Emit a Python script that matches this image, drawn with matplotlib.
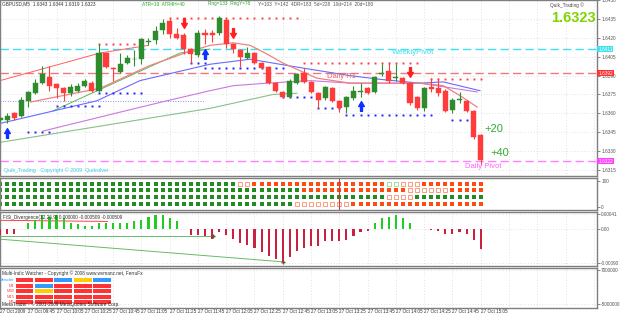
import matplotlib
matplotlib.use("Agg")
import matplotlib.pyplot as plt
from matplotlib.path import Path

plt.rcParams['font.family'] = ['Liberation Sans', 'DejaVu Sans']

W, H = 625, 315

# ---------------- data ----------------
bar_idx = list(range(-1, 68))
opens = [1.6355, 1.6355, 1.6360, 1.6358, 1.6370, 1.6376, 1.6384, 1.6389, 1.6383, 1.6380,
         1.6376, 1.6378, 1.6382, 1.6384, 1.6378, 1.6408, 1.6396, 1.6393, 1.6400, 1.6403,
         1.6403, 1.6417, 1.6418, 1.6426, 1.6433, 1.6423, 1.6422, 1.6411, 1.6406, 1.6424,
         1.6424, 1.6424, 1.6434, 1.6415, 1.6410, 1.6404, 1.6408, 1.6400, 1.6397, 1.6384,
         1.6377, 1.6373, 1.6384, 1.6392, 1.6385, 1.6376, 1.6372, 1.6380, 1.6370, 1.6365,
         1.6372, 1.6377, 1.6380, 1.6377, 1.6391, 1.6394, 1.6388, 1.6388, 1.6384, 1.6373,
         1.6364, 1.6381, 1.6380, 1.6378, 1.6363, 1.6371, 1.6370, 1.6362, 1.6343]
highs = [1.6357, 1.6360, 1.6361, 1.6373, 1.6378, 1.6387, 1.6398, 1.6398, 1.6384, 1.6381,
         1.6383, 1.6384, 1.6387, 1.6386, 1.6415, 1.6409, 1.6397, 1.6408, 1.6406, 1.6410,
         1.6420, 1.6420, 1.6429, 1.6435, 1.6436, 1.6428, 1.6424, 1.6412, 1.6426, 1.6427,
         1.6426, 1.6437, 1.6436, 1.6416, 1.6411, 1.6413, 1.6409, 1.6401, 1.6398, 1.6385,
         1.6378, 1.6387, 1.6392, 1.6396, 1.6386, 1.6377, 1.6382, 1.6381, 1.6371, 1.6374,
         1.6382, 1.6384, 1.6381, 1.6390, 1.6399, 1.6401, 1.6399, 1.6389, 1.6385, 1.6374,
         1.6381, 1.6388, 1.6388, 1.6379, 1.6372, 1.6377, 1.6371, 1.6363, 1.6344]
lows = [1.6353, 1.6352, 1.6355, 1.6357, 1.6365, 1.6375, 1.6383, 1.6378, 1.6372, 1.6370,
        1.6374, 1.6377, 1.6381, 1.6377, 1.6377, 1.6396, 1.6386, 1.6392, 1.6399, 1.6398,
        1.6399, 1.6414, 1.6415, 1.6423, 1.6420, 1.6419, 1.6407, 1.6400, 1.6405, 1.6415,
        1.6417, 1.6422, 1.6412, 1.6408, 1.6397, 1.6403, 1.6399, 1.6395, 1.6383, 1.6377,
        1.6372, 1.6372, 1.6383, 1.6384, 1.6376, 1.6364, 1.6371, 1.6369, 1.6361, 1.6360,
        1.6371, 1.6373, 1.6375, 1.6376, 1.6390, 1.6384, 1.6386, 1.6383, 1.6367, 1.6363,
        1.6362, 1.6377, 1.6374, 1.6361, 1.6360, 1.6368, 1.6361, 1.6340, 1.6319]
closes = [1.6356, 1.6358, 1.6356, 1.6371, 1.6377, 1.6384, 1.6391, 1.6382, 1.6380, 1.6376,
          1.6381, 1.6382, 1.6386, 1.6378, 1.6408, 1.6397, 1.6395, 1.6399, 1.6404, 1.64035,
          1.6419, 1.6417, 1.6425, 1.6432, 1.6423, 1.6420, 1.6411, 1.6407, 1.6424, 1.6422,
          1.6422, 1.6436, 1.6415, 1.6411, 1.6405, 1.6408, 1.6400, 1.6396, 1.6384, 1.6378,
          1.6373, 1.6386, 1.6391, 1.6385, 1.6377, 1.6371, 1.6381, 1.6370, 1.6364, 1.6373,
          1.6378, 1.6378, 1.6376, 1.6389, 1.6392, 1.6386, 1.6389, 1.6384, 1.6368, 1.6364,
          1.6380, 1.6379, 1.6376, 1.6362, 1.6371, 1.6371, 1.6362, 1.6341, 1.6323]

# moving averages as (bar, price) vertices
ma_salmon = [(3.3, 1.6369), (13.2, 1.6380), (20.2, 1.6398), (25.2, 1.6408), (28.7, 1.6414),
             (32.0, 1.6416), (34.4, 1.6414), (36.8, 1.6407), (39.0, 1.6400), (41.4, 1.6394),
             (43.8, 1.6388), (48.5, 1.6384), (55.6, 1.6384), (58.4, 1.6384), (61.7, 1.6382),
             (64.1, 1.6374), (66.5, 1.6365)]
ma_upper = [(-1.0, 1.6386), (13.2, 1.6408), (20.0, 1.6414)]
ma_green_fast = [(6.5, 1.6362), (24.5, 1.6408), (28.7, 1.6411)]
ma_green_slow = [(-1.0, 1.6337), (28.7, 1.6364), (37.6, 1.6375), (41.0, 1.6376)]
ma_blue = [(-1.0, 1.6352), (12.7, 1.6370), (18.8, 1.6386), (28.7, 1.6399), (34.4, 1.6403),
           (38.6, 1.6399), (42.9, 1.6395), (48.5, 1.6390), (52.8, 1.6387), (58.4, 1.6384),
           (61.7, 1.6385), (66.9, 1.6378)]
ma_purple = [(5.1, 1.6346), (16.0, 1.6361), (22.6, 1.6370), (28.7, 1.6378), (32.0, 1.6382),
             (36.8, 1.6384), (42.9, 1.6386), (48.5, 1.6384), (55.6, 1.6384), (58.4, 1.6384),
             (66.5, 1.6377)]

# stepped dotted levels: (first bar, last bar, price)
res_dots = [(13, 19, 1.6415), (23, 41, 1.6436), (42, 58, 1.6400), (60, 67, 1.6387)]
sup_dots = [(3, 6, 1.6345), (7, 13, 1.6366), (13, 19, 1.6376), (26, 28, 1.6400),
            (28, 39, 1.6396), (39, 43, 1.6373), (44, 47, 1.6364), (48, 60, 1.6359), (63, 66, 1.6355)]
prev_level = (-1, 28, 1.6370)

up_arrows = [0, 28, 50]
down_arrows = [25, 32, 57]

weekly_pivot = 1.6411
daily_r1 = 1.6392
daily_pivot = 1.6322
price_ticks = [1.6315, 1.6330, 1.6345, 1.6360, 1.6375, 1.6390, 1.6405, 1.6420, 1.6435, 1.6450]

time_labels = ['27 Oct 2009', '27 Oct 09:45', '27 Oct 10:05', '27 Oct 10:25', '27 Oct 10:45',
               '27 Oct 11:05', '27 Oct 11:25', '27 Oct 11:45', '27 Oct 12:05', '27 Oct 12:25',
               '27 Oct 12:45', '27 Oct 13:05', '27 Oct 13:25', '27 Oct 13:45', '27 Oct 14:05',
               '27 Oct 14:25', '27 Oct 14:45', '27 Oct 15:05']

# signal dots: G green, O orange, o hollow orange, g hollow green
dot_rows = [
    'G' * 34 + 'oo' + 'O' * 19 + 'gg' + 'ooo' + 'O' * 9,
    'G' * 43 + 'O' * 15 + 'o' * 6 + 'O' * 5,
    'G' * 55 + 'oooo' + 'G' * 10,
    'G' * 42 + 'o' * 8 + 'O' * 19,
]

# FiSi divergence histogram
hist_vals = [-0.00016, -0.00013, -0.00013, 0.0, 0.00016, 0.00024, 0.00037, 0.00034, 0.00037,
             0.00029, 0.00018, 0.00013, 0.00008, 0.00008, 0.00016, 0.00018, 0.00018, 0.00016,
             0.00018, 0.00021, 0.00024, 0.00034, 0.00037, 0.00037, 0.00029, 0.00021, 0.0,
             -0.00016, -0.00016, -0.00018, -0.00026, -0.00008, -0.00016, -0.00026, -0.00036,
             -0.00042, -0.00049, -0.00060, -0.00070, -0.00078, -0.00088, -0.00073, -0.00057,
             -0.00049, -0.00044, -0.00044, -0.00031, -0.00031, -0.00031, -0.00029, -0.00018,
             -0.00008, -0.00003, 0.00016, 0.00029, 0.00034, 0.00037, 0.00031, 0.00016, 0.00001,
             0.0, -0.00001, -0.00003, -0.00013, -0.00013, -0.00008, -0.00013, -0.00029, -0.00051]
div_red = [(-1.0, 0.00024), (14.2, 0.00021)]
div_green_flat = [(-1.0, -0.00018), (29.1, -0.00018)]
div_green_down = [(-1.0, -0.00026), (39.0, -0.00086)]

# multi indicator watcher
mi_rows = ['Weiscler', 'M1', 'M30', 'M15', 'M5']
mi_cols = ['Watchfive', 'MACD', 'Stoch', 'CCI', 'ADX']
mi_cells = [['r', 'r', 'b', 'y', 'b'],
            ['r', 'b', 'r', 'r', 'r'],
            ['r', 'y', 'r', 'r', 'r'],
            ['r', 'r', 'r', 'r', 'r'],
            ['r', 'r', 'r', 'r', 'r']]

# ---------------- figure ----------------
fig = plt.figure(figsize=(W / 100, H / 100), dpi=100)
fig.patch.set_facecolor('white')

PLOT_R = 597
X0, X1 = -0.99, 83.45
SMALL = 3.4
NARROW = ['Liberation Sans Narrow', 'Liberation Sans', 'DejaVu Sans']


def add_panel(top, bottom):
    ax = fig.add_axes([0, 1 - bottom / H, PLOT_R / W, (bottom - top) / H])
    ax.set_xlim(X0, X1)
    ax.set_facecolor('white')
    for s in ax.spines.values():
        s.set_color('#7f7f7f')
        s.set_linewidth(1.0)
    ax.yaxis.tick_right()
    ax.tick_params(axis='y', labelsize=SMALL, length=2, width=0.5, colors='#555555', pad=1)
    ax.tick_params(axis='x', length=0, labelbottom=False)
    ax.set_xticks([b for b in range(-1, 84, 4)])
    ax.grid(True, color='#c8c8c8', linestyle=(0, (1, 3)), linewidth=0.5)
    ax.set_axisbelow(True)
    return ax


def fx(x):
    return x / W


def fy(y):
    return 1 - y / H


# ---- main price panel ----
ax = add_panel(0, 176)
ax.set_ylim(1.63103, 1.64492)
ax.set_yticks(price_ticks)
ax.set_yticklabels(['%.4f' % p for p in price_ticks])

ax.axhline(weekly_pivot, color='#40e0ee', lw=1.0, ls=(0, (6, 3)), zorder=1)
ax.axhline(daily_r1, color='#f07878', lw=1.0, ls=(0, (6, 3)), zorder=1)
ax.axhline(daily_pivot, color='#ff80ff', lw=1.0, ls=(0, (6, 3)), zorder=1)
ax.plot([prev_level[0], prev_level[1]], [prev_level[2]] * 2, color='#6a6aff', lw=0.6,
        ls=(0, (1, 2)), zorder=1)

for pts, col, lw in [(ma_upper, '#ff6060', 0.7), (ma_green_slow, '#88c088', 0.8),
                     (ma_green_fast, '#55bb55', 0.7), (ma_purple, '#cc77dd', 0.8),
                     (ma_blue, '#6a6aff', 0.8), (ma_salmon, '#f08080', 0.9)]:
    ax.plot([p[0] for p in pts], [p[1] for p in pts], color=col, lw=lw, zorder=2)

for b0, b1, p in res_dots:
    ax.plot(range(b0, b1 + 1), [p] * (b1 - b0 + 1), ls='none', marker='s', ms=1.4,
            color='#ff4040', mew=0, zorder=2)
for b0, b1, p in sup_dots:
    ax.plot(range(b0, b1 + 1), [p] * (b1 - b0 + 1), ls='none', marker='s', ms=1.4,
            color='#2020ff', mew=0, zorder=2)

for i, o, h, l, c in zip(bar_idx, opens, highs, lows, closes):
    col = '#2e8b2e' if c >= o else '#ff3b3b'
    ax.vlines(i, l, h, color=col, lw=0.8, zorder=3)
    ax.bar(i, max(abs(c - o), 0.00002), bottom=min(o, c), width=0.72, color=col,
           edgecolor=col, lw=0.3, zorder=4)

arrow = Path([(-0.35, 0), (0, 0.6), (0.35, 0), (0.12, 0), (0.12, -0.6), (-0.12, -0.6),
              (-0.12, 0), (-0.35, 0)], closed=True)
arrow_dn = Path([(x, -y) for x, y in arrow.vertices], closed=True)
lw_map = dict(zip(bar_idx, lows))
hi_map = dict(zip(bar_idx, highs))
for b in up_arrows:
    ax.plot(b, lw_map[b] - 0.00075, marker=arrow, ms=7, color='#1030ff', ls='none', zorder=5)
for b in down_arrows:
    ax.plot(b, hi_map[b] + 0.00075, marker=arrow_dn, ms=7, color='#ff2020', ls='none', zorder=5)

# price boxes on the axis
for p, fc in [(weekly_pivot, '#40e0ee'), (daily_r1, '#ff3030'), (daily_pivot, '#ff40ff')]:
    ax.text(1.002, p, '%.4f' % p, transform=ax.get_yaxis_transform(), fontsize=SMALL,
            color='white', va='center', ha='left',
            bbox=dict(boxstyle='square,pad=0.15', fc=fc, ec='none'))

fig.text(fx(2), fy(4), 'GBPUSD,M5  1.6343 1.6344 1.6319 1.6323', fontsize=SMALL, color='#333333', va='center')
fig.text(fx(142), fy(4), 'ATR=19  ATR4H=40', fontsize=SMALL, color='#22aa22', va='center')
fig.text(fx(208), fy(4), 'Rng=133  RngY=78', fontsize=SMALL, color='#22aa22', va='center')
fig.text(fx(258), fy(4), 'Y=103  Y=142  4DR=183  5d=228  10d=214  20d=180', fontsize=SMALL,
         color='#555555', va='center')
fig.text(fx(550), fy(5), 'Quik_Trading \u00a9', fontsize=SMALL, color='#444444', va='center')
fig.text(fx(596), fy(18), '1.6323', fontsize=10.5, color='#7fd400', va='center', ha='right',
         fontweight='bold')
fig.text(fx(392), fy(52), 'WeeklyPivot', fontsize=5.5, color='#40e0ee', va='center')
fig.text(fx(327), fy(77), 'Daily R1', fontsize=5.5, color='#f06060', va='center')
fig.text(fx(465), fy(166), 'Daily Pivot', fontsize=5.5, color='#ff60ff', va='center')
fig.text(fx(484), fy(129), '+20', fontsize=8, color='#33aa33', va='center')
fig.text(fx(490), fy(153), '+40', fontsize=8, color='#33aa33', va='center')
fig.text(fx(4), fy(170), 'Quik_Trading   Copyright \u00a9 2009  Quiksilver', fontsize=SMALL + 0.4,
         color='#40c8e0', va='center')

# ---- signal dots panel ----
ax2 = add_panel(178, 210)
ax2.set_ylim(-0.5, 4.5)
ax2.set_yticks([4.1, 0.0])
ax2.set_yticklabels(['100', '0'])
ax2.grid(False)
for r, row in enumerate(dot_rows):
    yv = 3.6 - r * 1.05
    for b, code in zip(bar_idx, row):
        if code == 'G':
            ax2.plot(b, yv, 's', ms=3.0, color='#228b22', mew=0)
        elif code == 'O':
            ax2.plot(b, yv, 's', ms=3.0, color='#ff4a10', mew=0)
        elif code == 'o':
            ax2.plot(b, yv, 's', ms=2.5, mfc='white', mec='#ff8a6a', mew=0.6)
        else:
            ax2.plot(b, yv, 's', ms=2.5, mfc='white', mec='#90d890', mew=0.6)
ax2.axvline(47, color='#c04040', lw=0.8)

# ---- histogram panel ----
ax3 = add_panel(212, 266)
ax3.set_ylim(-0.00097, 0.00046)
ax3.set_yticks([0.00041, 0.0, -0.00090])
ax3.set_yticklabels(['0.00041', '0.00', '-0.00090'])
cols = ['#22cc22' if v >= 0 else '#cc2040' for v in hist_vals]
ax3.bar(bar_idx, hist_vals, width=0.3, color=cols, zorder=3)
ax3.plot([p[0] for p in div_red], [p[1] for p in div_red], color='#ff4040', lw=0.7)
ax3.plot([p[0] for p in div_green_flat], [p[1] for p in div_green_flat], color='#66bb66', lw=0.7)
ax3.plot([p[0] for p in div_green_down], [p[1] for p in div_green_down], color='#66bb66', lw=0.7)
ax3.plot(div_green_flat[-1][0], div_green_flat[-1][1], marker='+', color='#227722', ms=3)
ax3.plot(div_green_down[-1][0], div_green_down[-1][1], marker='+', color='#227722', ms=3)
ax3.text(0.005, 0.95, 'FiSi_Divergence(12,26,9) 0.000000 -0.000509 -0.000509', transform=ax3.transAxes,
         fontsize=SMALL, color='#333333', va='top')

# ---- multi indicator panel ----
ax4 = add_panel(268, 308)
ax4.set_ylim(0, 1)
ax4.set_yticks([0.95, 0.1])
ax4.set_yticklabels(['7000000', '-5000000'])
ax4.set_xticklabels(time_labels + [''] * (len(ax4.get_xticks()) - len(time_labels)),
                    fontsize=3.3, color='#333333', ha='left', family=NARROW)
ax4.tick_params(axis='x', labelbottom=True, length=0, pad=1.0)
ax4.text(0.003, 0.86, 'Multi-Indic Watcher - Copyright \u00a9 2008 www.wvmanz.net, FerruFx',
         transform=ax4.transAxes, fontsize=SMALL, color='#333333', va='center')
cw, x_start = 2.5, 1.2
col_fc = {'r': '#ff3333', 'b': '#3399ff', 'y': '#ffcc00'}
for r, (name, row) in enumerate(zip(mi_rows, mi_cells)):
    yv = 0.70 - r * 0.14
    ax4.text(1.0, yv, name, fontsize=3.0, color='#3399ff' if r == 0 else '#ff4444',
             ha='right', va='center')
    for c, code in enumerate(row):
        ax4.bar(x_start + c * (cw + 0.25), 0.1, bottom=yv - 0.05, width=cw, align='edge',
                color=col_fc[code], lw=0)
for c, name in enumerate(mi_cols):
    ax4.text(x_start + c * (cw + 0.25) + cw / 2, 0.12, name, fontsize=3.0, color='#ff4444',
             ha='center', va='center')
ax4.text(0.003, 0.02, 'MetaTrader - \u00a9 2001-2009 MetaQuotes Software Corp.',
         transform=ax4.transAxes, fontsize=SMALL, color='#222222', va='bottom')

fig.savefig('out.png', dpi=100, facecolor='white')
